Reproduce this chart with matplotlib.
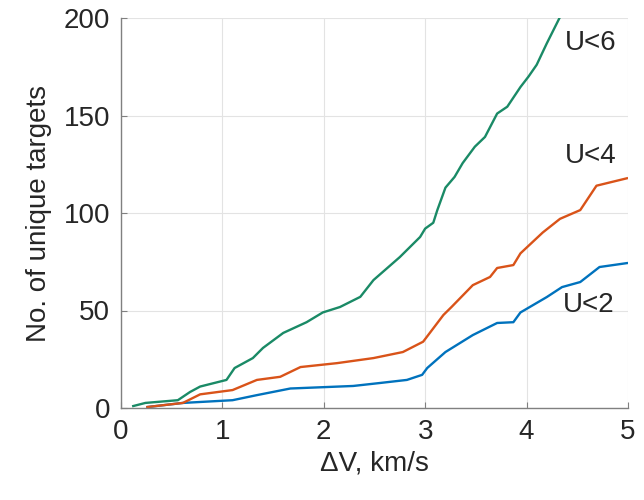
import matplotlib
matplotlib.use("Agg")
import matplotlib.pyplot as plt

# cumulative number of unique targets vs delta-V
dv_u6 = [0.12, 0.24, 0.56, 0.68, 0.78, 1.04, 1.12, 1.3, 1.4, 1.6, 1.83, 1.99, 2.16,
         2.36, 2.49, 2.75, 2.95, 3.0, 3.08, 3.12, 3.2, 3.29, 3.37, 3.49, 3.59, 3.71,
         3.81, 3.94, 4.02, 4.1, 4.2, 4.33]
n_u6 = [1, 2.6, 4, 8.2, 11, 14.4, 20.5, 25.6, 30.8, 38.5, 44, 49, 51.8,
        57, 65.6, 77.4, 87.7, 92, 95, 101.5, 113, 118.5, 125.6, 134, 139, 151,
        154.5, 164.6, 170, 176, 187, 200.5]

dv_u4 = [0.26, 0.61, 0.78, 1.1, 1.34, 1.57, 1.77, 2.13, 2.49, 2.78, 2.98, 3.18,
         3.26, 3.47, 3.64, 3.71, 3.87, 3.94, 4.16, 4.33, 4.53, 4.69, 4.99]
n_u4 = [0.5, 2.6, 7, 9.2, 14.4, 16, 21, 23, 25.6, 28.7, 34, 47.7,
        51.8, 63, 67.2, 71.8, 73.3, 79.3, 90, 97, 101.5, 114, 117.8]

dv_u2 = [0.26, 0.61, 1.1, 1.34, 1.67, 2.29, 2.55, 2.82, 2.97, 3.02, 3.2, 3.47,
         3.71, 3.87, 3.94, 4.2, 4.35, 4.53, 4.72, 4.99]
n_u2 = [0.5, 2.6, 4, 6.6, 10, 11.3, 12.8, 14.4, 17, 20.5, 28.7, 37.4,
        43.6, 44, 49, 56.9, 62, 64.6, 72.3, 74.3]

labels = ["U<6", "U<4", "U<2"]
label_pos = [(4.38, 187), (4.38, 129), (4.36, 53)]

plt.rcParams['font.family'] = ['Liberation Sans', 'DejaVu Sans']

fig = plt.figure(figsize=(6.44, 5), dpi=100)
ax = fig.add_axes([0.188, 0.184, 0.787, 0.78])

ax.plot(dv_u2, n_u2, color='#0072BD', lw=1.7)
ax.plot(dv_u4, n_u4, color='#D95319', lw=1.7)
ax.plot(dv_u6, n_u6, color='#1a8a66', lw=1.7)

for txt, (x, y) in zip(labels, label_pos):
    ax.text(x, y, txt, fontsize=20, color='#262626', va='center', ha='left')

ax.set_xlim(0, 5)
ax.set_ylim(0, 200)
ax.set_xticks([0, 1, 2, 3, 4, 5])
ax.set_yticks([0, 50, 100, 150, 200])
ax.grid(True, color='#e3e3e3', lw=0.8)
ax.set_axisbelow(True)
for s in ['top', 'right']:
    ax.spines[s].set_visible(False)
for s in ['left', 'bottom']:
    ax.spines[s].set_color('#808080')
    ax.spines[s].set_linewidth(1.0)
ax.tick_params(direction='in', length=4, color='#808080', labelsize=20,
               labelcolor='#262626', pad=8)

ax.set_xlabel('ΔV, km/s', fontsize=20, color='#262626', labelpad=4)
ax.set_ylabel('No. of unique targets', fontsize=20, color='#262626', labelpad=8)

fig.savefig('out.png', dpi=100)
